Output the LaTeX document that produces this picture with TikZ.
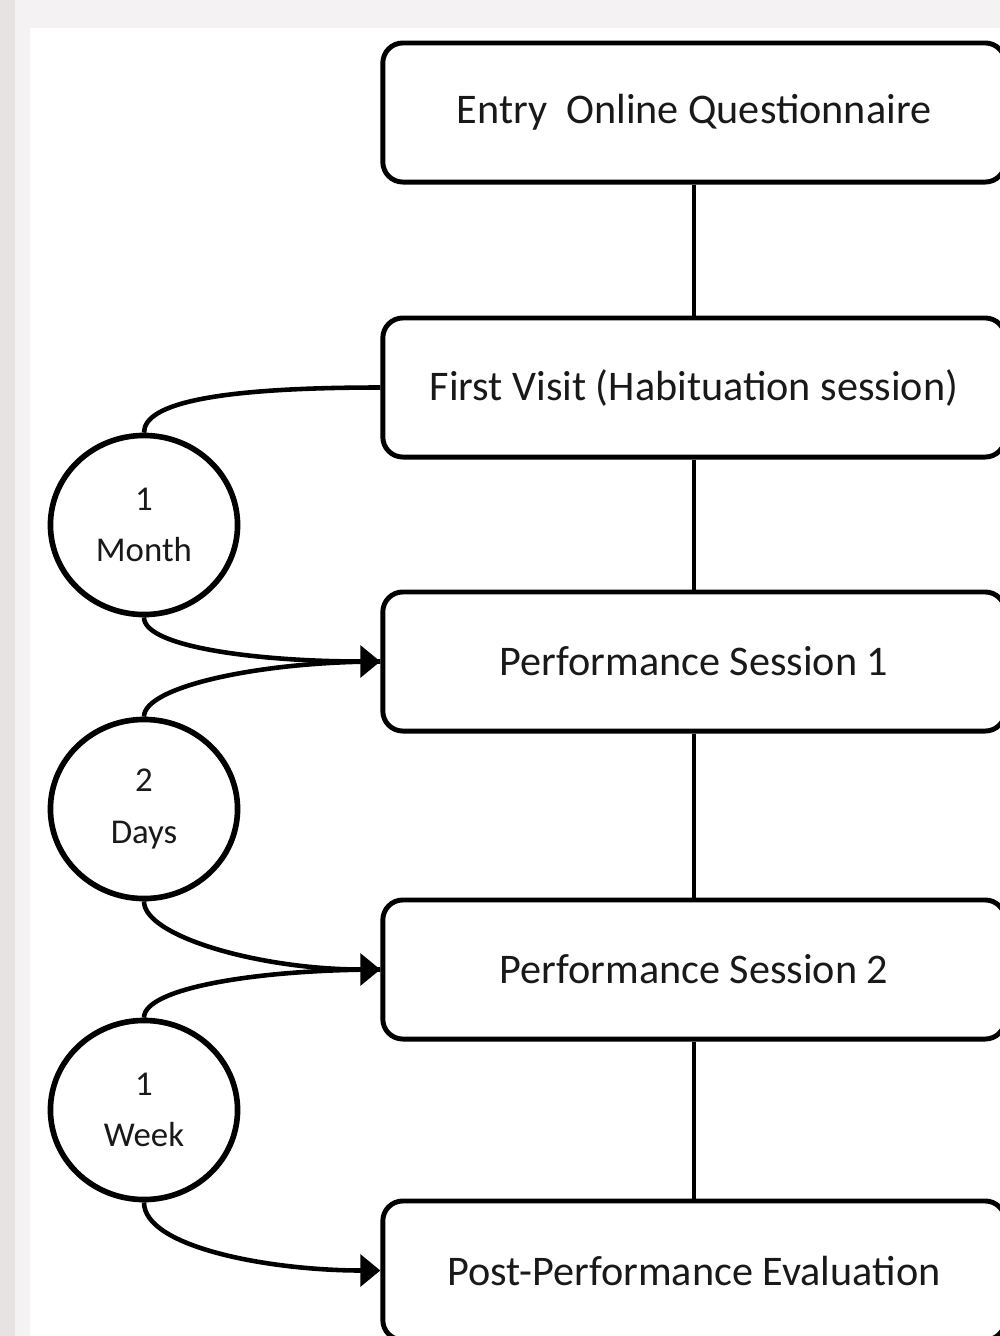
\documentclass[tikz,border=0pt]{standalone}
\usepackage{fontspec}
\setmainfont{Carlito}
\usetikzlibrary{arrows.meta,shapes.geometric}
\definecolor{frameshade}{RGB}{244,242,242}
\definecolor{edgeshade}{RGB}{232,227,227}
\begin{document}
\begin{tikzpicture}[x=0.01cm,y=0.01cm,
    stage/.style={draw,line width=1.4pt,rounded corners=0.2cm,minimum width=6.22cm,
      minimum height=1.39cm,text=black!90,font=\fontsize{12}{14}\selectfont},
    gap/.style={draw,ellipse,line width=1.6pt,minimum width=1.87cm,minimum height=1.79cm,
      inner sep=0pt,align=center,text=black!90,font=\fontsize{9.9}{14.7}\selectfont},
    link/.style={line width=1.3pt},
    delay/.style={line width=1.3pt,-{Triangle[length=5.7pt,width=9pt]}}]
  \useasboundingbox (0,0) rectangle (1000,-1336);
  % screenshot frame
  \fill[frameshade] (0,0) rectangle (1000,-1336);
  \fill[edgeshade] (0,0) rectangle (15,-1336);
  \fill[white] (30,-28) rectangle (1000,-1336);
  % stages
  \node[stage] (entry) at (694,-112.5) {Entry~~Online Questionnaire};
  \node[stage] (visit) at (694,-387.5) {First Visit (Habituation session)};
  \node[stage] (perfa) at (694,-661.5) {Performance Session 1};
  \node[stage] (perfb) at (694,-969.5) {Performance Session 2};
  \node[stage] (post)  at (694,-1270.5) {Post-Performance Evaluation};
  % time gaps
  \node[gap] (month) at (144,-525) {1\\Month};
  \node[gap] (days)  at (144,-809) {2\\Days};
  \node[gap] (week)  at (144,-1110) {1\\Week};
  % main line
  \draw[link] (entry) -- (visit);
  \draw[link] (visit) -- (perfa);
  \draw[link] (perfa) -- (perfb);
  \draw[link] (perfb) -- (post);
  % gaps between stages
  \draw[link] (visit.west) to[out=180,in=90,out distance=1.6cm,in distance=0.3cm] (month.north);
  \draw[delay] (month.south) to[out=-90,in=180,out distance=0.3cm,in distance=1.2cm] (perfa.west);
  \draw[link] (days.north) to[out=90,in=180,out distance=0.3cm,in distance=1.2cm] (perfa.west);
  \draw[delay] (days.south) to[out=-90,in=180,out distance=0.35cm,in distance=1.2cm] (perfb.west);
  \draw[link] (week.north) to[out=90,in=180,out distance=0.3cm,in distance=1.2cm] (perfb.west);
  \draw[delay] (week.south) to[out=-90,in=180,out distance=0.45cm,in distance=1.1cm] (post.west);
\end{tikzpicture}
\end{document}
